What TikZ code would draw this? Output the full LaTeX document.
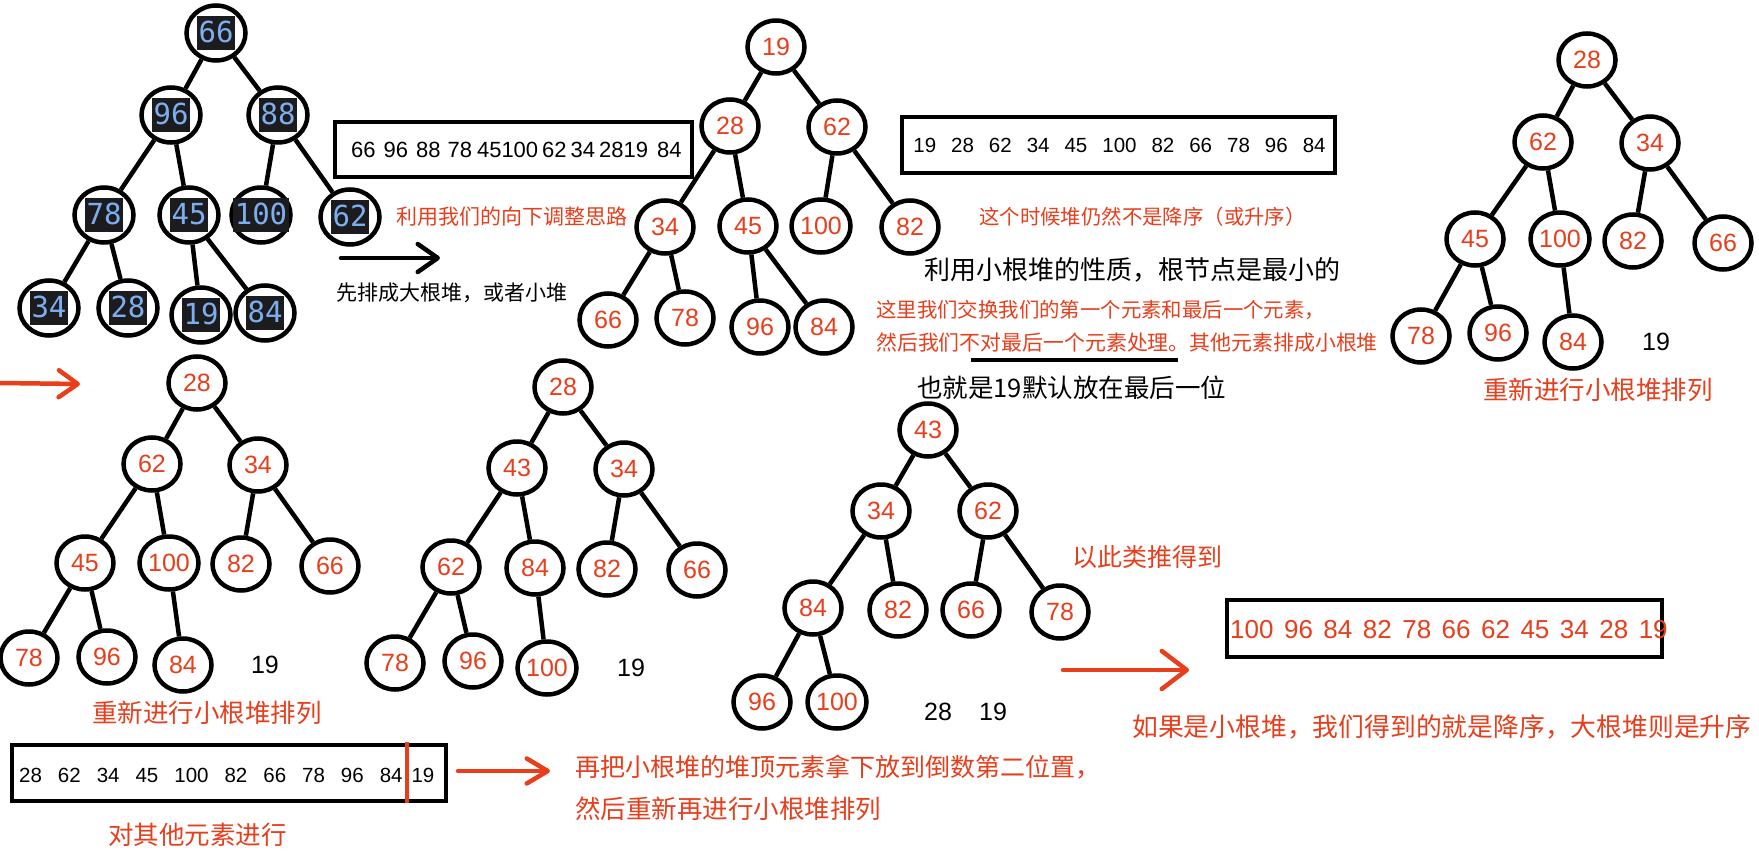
\documentclass[tikz,border=0pt]{standalone}
\usepackage{fontspec}
\setmainfont{Liberation Sans}
\newfontfamily\cjk{Noto Sans CJK SC}
\newfontfamily\monof{DejaVu Sans Mono}
\usetikzlibrary{shapes.geometric,arrows.meta}
\definecolor{hred}{RGB}{231,62,28}
\definecolor{hblue}{RGB}{125,175,240}
\definecolor{hdark}{RGB}{28,28,30}
\setlength{\fboxsep}{1.5pt}
\newcommand\blab[1]{\makebox[0pt]{\colorbox{hdark}{\rule[-6pt]{0pt}{31pt}\textcolor{hblue}{#1}}}}
\newcommand\gpa{\hspace{15pt}}
\newcommand\gpb{\hspace{16pt}}
\newcommand\gpc{\hspace{10.5pt}}
\tikzset{
 hn/.style={ellipse, draw=black, line width=4.5pt, minimum width=57pt, minimum height=53pt, inner sep=0pt, text=hred, font=\fontsize{25}{28}\selectfont},
 bn/.style={ellipse, draw=black, line width=4.5pt, minimum width=59pt, minimum height=55pt, inner sep=0pt, font=\monof\fontsize{29}{32}\selectfont},
 ed/.style={line width=4.5pt, black},
 arr/.style={line width=4.5pt, hred, line cap=round, line join=round},
 boxn/.style={draw=black, line width=4.5pt, inner sep=0pt},
 num/.style={inner sep=0pt, font=\fontsize{25}{28}\selectfont},
 rtxt/.style={inner sep=0pt, anchor=west, text=hred},
 ktxt/.style={inner sep=0pt, anchor=west, text=black},
}
\begin{document}
\begin{tikzpicture}[x=1pt,y=-1pt]
\useasboundingbox (0,0) rectangle (1759,853);
\fill[white] (0,0) rectangle (1759,853);

% ---------- Tree 1 ----------
\node[bn] (a66) at (216,33) {\blab{66}};
\node[bn] (a96) at (171,115) {\blab{96}};
\node[bn] (a88) at (278,115) {\blab{88}};
\node[bn] (a78) at (104,215) {\blab{78}};
\node[bn] (a45) at (189,215) {\blab{45}};
\node[bn] (a100) at (261,215) {\blab{100}};
\node[bn] (a62) at (350,217) {\blab{62}};
\node[bn] (a34) at (49,308) {\blab{34}};
\node[bn] (a28) at (128,308) {\blab{28}};
\node[bn] (a19) at (201,315) {\blab{19}};
\node[bn] (a84) at (265,313) {\blab{84}};
\draw[ed] (a66)--(a96); \draw[ed] (a66)--(a88);
\draw[ed] (a96)--(a78); \draw[ed] (a96)--(a45);
\draw[ed] (a88)--(a100); \draw[ed] (a88)--(a62);
\draw[ed] (a78)--(a34); \draw[ed] (a78)--(a28);
\draw[ed] (a45)--(a19); \draw[ed] (a45)--(a84);

% box 1
\node[boxn, minimum width=357pt, minimum height=55pt] (box1) at (513.5,149.5) {};
\node[inner sep=0pt, anchor=west, font=\fontsize{22}{24}\selectfont] (box1t) at (351,150) {66\hspace{8pt}96\hspace{8pt}88\hspace{7pt}78\hspace{5pt}45100\hspace{4pt}62\hspace{4pt}34\hspace{4pt}2819\hspace{9pt}84};

\node[rtxt, font=\cjk\fontsize{21}{24}\selectfont] (t1) at (396,217) {利用我们的向下调整思路};
\coordinate (ka1) at (341,258); \coordinate (ka2) at (440,258);
\draw[line width=4.5pt, black, line cap=round, -{Straight Barb[length=20pt,width=28pt,round]}] (ka1) -- (ka2);
\node[ktxt, font=\cjk\fontsize{21}{24}\selectfont] (t2) at (336,293) {先排成大根堆，或者小堆};

% ---------- Tree 2 ----------
\node[hn] (b19) at (776,47) {19};
\node[hn] (b28) at (730,126) {28};
\node[hn] (b62) at (837,127) {62};
\node[hn] (b34) at (665,227) {34};
\node[hn] (b45) at (748,226) {45};
\node[hn] (b100) at (821,226) {100};
\node[hn] (b82) at (910,227) {82};
\node[hn] (b66) at (608,320) {66};
\node[hn] (b78) at (685,318) {78};
\node[hn] (b96) at (760,327) {96};
\node[hn] (b84) at (824,327) {84};
\draw[ed] (b19)--(b28); \draw[ed] (b19)--(b62);
\draw[ed] (b28)--(b34); \draw[ed] (b28)--(b45);
\draw[ed] (b62)--(b100); \draw[ed] (b62)--(b82);
\draw[ed] (b34)--(b66); \draw[ed] (b34)--(b78);
\draw[ed] (b45)--(b96); \draw[ed] (b45)--(b84);

% box 2
\node[boxn, minimum width=433pt, minimum height=56pt] (box2) at (1118.5,145) {};
\node[inner sep=0pt, font=\fontsize{20.5}{24}\selectfont] (box2t) at (1119.5,145) {19\gpa 28\gpa 62\gpa 34\gpa 45\gpa 100\gpa 82\gpa 66\gpa 78\gpa 96\gpa 84};

\node[rtxt, font=\cjk\fontsize{20.4}{24}\selectfont] (t3) at (979,217) {这个时候堆仍然不是降序（或升序）};
\node[ktxt, font=\cjk\fontsize{26}{30}\selectfont] (t4) at (924,270) {利用小根堆的性质，根节点是最小的};
\node[rtxt, font=\cjk\fontsize{20.4}{24}\selectfont] (t5) at (876,310) {这里我们交换我们的第一个元素和最后一个元素，};
\node[rtxt, font=\cjk\fontsize{20.9}{24}\selectfont] (t6) at (876,343) {然后我们不对最后一个元素处理。其他元素排成小根堆};
\coordinate (ul1) at (971,360); \coordinate (ul2) at (1178,360);
\draw[line width=4pt, black] (ul1) -- (ul2);
\node[ktxt, font=\cjk\fontsize{25.5}{30}\selectfont] (t7) at (917,388) {也就是19默认放在最后一位};

% ---------- Tree 3 ----------
\node[hn] (c28) at (1587,60) {28};
\node[hn] (c62) at (1543,142) {62};
\node[hn] (c34) at (1650,143) {34};
\node[hn] (c45) at (1475,239) {45};
\node[hn] (c100) at (1560,239) {100};
\node[hn] (c82) at (1633,241) {82};
\node[hn] (c66) at (1723,243) {66};
\node[hn] (c78) at (1421,336) {78};
\node[hn] (c96) at (1498,333) {96};
\node[hn] (c84) at (1573,342) {84};
\node[num] (c19) at (1656,342) {19};
\draw[ed] (c28)--(c62); \draw[ed] (c28)--(c34);
\draw[ed] (c62)--(c45); \draw[ed] (c62)--(c100);
\draw[ed] (c34)--(c82); \draw[ed] (c34)--(c66);
\draw[ed] (c45)--(c78); \draw[ed] (c45)--(c96);
\draw[ed] (c100)--(c84);
\node[rtxt, font=\cjk\fontsize{25.5}{30}\selectfont] (t8) at (1483,390) {重新进行小根堆排列};

% red arrow 1
\coordinate (ra1) at (0,383); \coordinate (ra2) at (80,384);
\draw[arr, -{Straight Barb[length=19pt,width=27pt,round]}] (ra1) -- (ra2);

% ---------- Tree 4 ----------
\node[hn] (d28) at (197,383) {28};
\node[hn] (d62) at (152,464) {62};
\node[hn] (d34) at (258,465) {34};
\node[hn] (d45) at (85,563) {45};
\node[hn] (d100) at (169,563) {100};
\node[hn] (d82) at (241,564) {82};
\node[hn] (d66) at (330,566) {66};
\node[hn] (d78) at (29,658) {78};
\node[hn] (d96) at (107,657) {96};
\node[hn] (d84) at (183,665) {84};
\node[num] (d19) at (265,665) {19};
\draw[ed] (d28)--(d62); \draw[ed] (d28)--(d34);
\draw[ed] (d62)--(d45); \draw[ed] (d62)--(d100);
\draw[ed] (d34)--(d82); \draw[ed] (d34)--(d66);
\draw[ed] (d45)--(d78); \draw[ed] (d45)--(d96);
\draw[ed] (d100)--(d84);
\node[rtxt, font=\cjk\fontsize{25.5}{30}\selectfont] (t9) at (92,713) {重新进行小根堆排列};

% box 3
\node[boxn, minimum width=434pt, minimum height=56pt] (box3) at (229,773) {};
\node[inner sep=0pt, anchor=west, font=\fontsize{20.5}{24}\selectfont] (box3t) at (19,775) {28\gpb 62\gpb 34\gpb 45\gpb 100\gpb 82\gpb 66\gpb 78\gpb 96\gpb 84\hspace{9pt}19};
\coordinate (rl1) at (407,742); \coordinate (rl2) at (407,803);
\draw[line width=3.5pt, hred] (rl1) -- (rl2);
\node[rtxt, font=\cjk\fontsize{25.5}{30}\selectfont] (t10) at (108,835) {对其他元素进行};

% ---------- Tree 5 ----------
\node[hn] (e28) at (563,387) {28};
\node[hn] (e43) at (517,468) {43};
\node[hn] (e34) at (624,469) {34};
\node[hn] (e62) at (451,567) {62};
\node[hn] (e84) at (535,568) {84};
\node[hn] (e82) at (607,569) {82};
\node[hn] (e66) at (697,570) {66};
\node[hn] (e78) at (395,663) {78};
\node[hn] (e96) at (473,661) {96};
\node[hn] (e100) at (547,668) {100};
\node[num] (e19) at (631,668) {19};
\draw[ed] (e28)--(e43); \draw[ed] (e28)--(e34);
\draw[ed] (e43)--(e62); \draw[ed] (e43)--(e84);
\draw[ed] (e34)--(e82); \draw[ed] (e34)--(e66);
\draw[ed] (e62)--(e78); \draw[ed] (e62)--(e96);
\draw[ed] (e84)--(e100);

% red arrow 2
\coordinate (rb1) at (458,771); \coordinate (rb2) at (550,771);
\draw[arr, -{Straight Barb[length=21pt,width=25pt,round]}] (rb1) -- (rb2);
\node[rtxt, font=\cjk\fontsize{25}{30}\selectfont] (t11) at (575,767) {再把小根堆的堆顶元素拿下放到倒数第二位置，};
\node[rtxt, font=\cjk\fontsize{25.5}{30}\selectfont] (t12) at (575,809) {然后重新再进行小根堆排列};

% ---------- Tree 6 ----------
\node[hn] (f43) at (928,430) {43};
\node[hn] (f34) at (881,511) {34};
\node[hn] (f62) at (988,511) {62};
\node[hn] (f84) at (813,608) {84};
\node[hn] (f82) at (898,610) {82};
\node[hn] (f66) at (971,610) {66};
\node[hn] (f78) at (1060,612) {78};
\node[hn] (f96) at (762,702) {96};
\node[hn] (f100) at (837,702) {100};
\node[num] (f28) at (938,712) {28};
\node[num] (f19) at (993,712) {19};
\draw[ed] (f43)--(f34); \draw[ed] (f43)--(f62);
\draw[ed] (f34)--(f84); \draw[ed] (f34)--(f82);
\draw[ed] (f62)--(f66); \draw[ed] (f62)--(f78);
\draw[ed] (f84)--(f96); \draw[ed] (f84)--(f100);

\node[rtxt, font=\cjk\fontsize{25}{30}\selectfont] (t13) at (1072,557) {以此类推得到};

% red arrow 3
\coordinate (rc1) at (1063,670); \coordinate (rc2) at (1189,670);
\draw[arr, -{Straight Barb[length=25pt,width=38pt,round]}] (rc1) -- (rc2);

% box 4
\node[boxn, minimum width=435pt, minimum height=57pt] (box4) at (1444.5,628.5) {};
\node[inner sep=0pt, anchor=west, text=hred, font=\fontsize{26}{30}\selectfont] (box4t) at (1230,630) {100\gpc 96\gpc 84\gpc 82\gpc 78\gpc 66\gpc 62\gpc 45\gpc 34\gpc 28\gpc 19};

\node[rtxt, font=\cjk\fontsize{25.8}{30}\selectfont] (t14) at (1132,727) {如果是小根堆，我们得到的就是降序，大根堆则是升序};
\end{tikzpicture}
\end{document}
